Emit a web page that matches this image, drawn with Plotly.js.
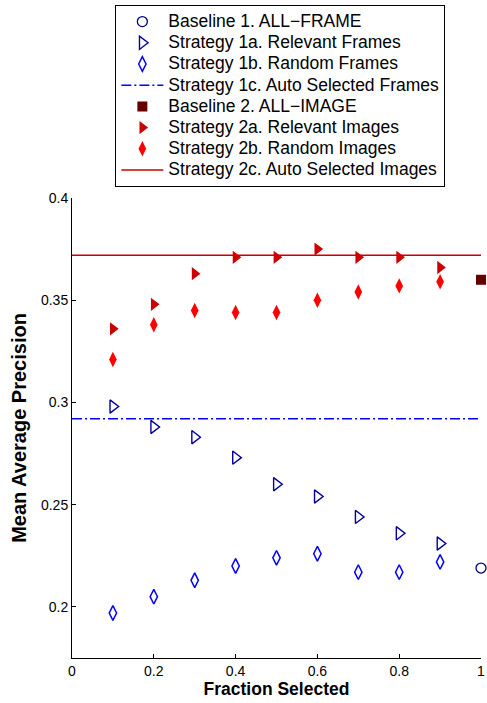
<!DOCTYPE html>
<html>
<head>
<meta charset="utf-8">
<script src="https://cdn.plot.ly/plotly-3.0.1.min.js"></script>
<style>html,body{margin:0;padding:0;background:#fff;}#chart{width:487px;height:703px;}</style>
</head>
<body>
<div id="chart"></div>
<script>
const fractions = [0.1, 0.2, 0.3, 0.4, 0.5, 0.6, 0.7, 0.8, 0.9];
const baseline1 = 0.219;
const strategy1a = [0.298, 0.288, 0.283, 0.273, 0.260, 0.254, 0.244, 0.236, 0.231];
const strategy1b = [0.197, 0.205, 0.213, 0.220, 0.224, 0.226, 0.217, 0.217, 0.222];
const strategy1c = 0.292;
const baseline2 = 0.360;
const strategy2a = [0.336, 0.348, 0.363, 0.371, 0.371, 0.375, 0.371, 0.371, 0.366];
const strategy2b = [0.321, 0.338, 0.345, 0.344, 0.344, 0.350, 0.354, 0.357, 0.359];
const strategy2c = 0.372;
const xTicks = [0, 0.2, 0.4, 0.6, 0.8, 1];
const xTickLabels = ['0', '0.2', '0.4', '0.6', '0.8', '1'];
const yTicks = [0.2, 0.25, 0.3, 0.35, 0.4];
const yTickLabels = ['0.2', '0.25', '0.3', '0.35', '0.4'];
const names = [
  'Baseline 1. ALL\u2212FRAME',
  'Strategy 1a. Relevant Frames',
  'Strategy 1b. Random Frames',
  'Strategy 1c. Auto Selected Frames',
  'Baseline 2. ALL\u2212IMAGE',
  'Strategy 2a. Relevant Images',
  'Strategy 2b. Random Images',
  'Strategy 2c. Auto Selected Images'
];
const legendName = (s) => '<span style="font-size:17.5px">' + s + '</span>';

const traces = [
  {x: [1], y: [baseline1], name: legendName(names[0]), mode: 'markers', cliponaxis: false,
   marker: {symbol: 'circle-open', size: 10, color: '#000080', line: {width: 1.3, color: '#000080'}}},
  {x: fractions, y: strategy1a, name: legendName(names[1]), mode: 'markers',
   marker: {symbol: 'triangle-right-open', size: 11.5, color: '#000099', line: {width: 1.4, color: '#000099'}}},
  {x: fractions, y: strategy1b, name: legendName(names[2]), mode: 'markers',
   marker: {symbol: 'diamond-tall-open', size: 10.5, color: '#0000ff', line: {width: 1.5, color: '#0000ff'}}},
  {x: [0, 1], y: [strategy1c, strategy1c], name: legendName(names[3]), mode: 'lines',
   line: {color: '#0000ff', width: 1.5, dash: '10px,3px,2px,3px'}},
  {x: [1], y: [baseline2], name: legendName(names[4]), mode: 'markers', cliponaxis: false,
   marker: {symbol: 'square', size: 10, color: '#660000', line: {width: 0}}},
  {x: fractions, y: strategy2a, name: legendName(names[5]), mode: 'markers',
   marker: {symbol: 'triangle-right', size: 11.5, color: '#cc0000', line: {width: 0}}},
  {x: fractions, y: strategy2b, name: legendName(names[6]), mode: 'markers',
   marker: {symbol: 'diamond-tall', size: 11, color: '#ff0000', line: {width: 0}}},
  {x: [0, 1], y: [strategy2c, strategy2c], name: legendName(names[7]), mode: 'lines',
   line: {color: '#cc0000', width: 1.5}}
];

const layout = {
  width: 487, height: 703,
  margin: {l: 71.5, r: 6, t: 197, b: 45},
  paper_bgcolor: '#fff', plot_bgcolor: '#fff',
  font: {family: 'Liberation Sans, Arial, sans-serif', size: 14, color: '#000'},
  showlegend: true,
  legend: {
    x: 0.106, y: 1.4165, xanchor: 'left', yanchor: 'top',
    bgcolor: '#fff', bordercolor: '#000', borderwidth: 1,
    font: {family: 'Liberation Sans, Arial, sans-serif', size: 14, color: '#000'},
    itemwidth: 42, traceorder: 'normal'
  },
  xaxis: {
    range: [0, 1], tickvals: xTicks, ticktext: xTickLabels,
    ticks: 'inside', ticklen: 4, tickcolor: '#000', tickwidth: 1,
    showline: true, linecolor: '#000', linewidth: 1, mirror: false,
    showgrid: false, zeroline: false,
    tickfont: {size: 14},
    title: {text: '<b>Fraction Selected</b>', font: {size: 17.5}, standoff: 4}
  },
  yaxis: {
    range: [0.175, 0.4], tickvals: yTicks, ticktext: yTickLabels,
    ticks: 'inside', ticklen: 4, tickcolor: '#000', tickwidth: 1,
    showline: true, linecolor: '#000', linewidth: 1, mirror: false,
    showgrid: false, zeroline: false,
    tickfont: {size: 14},
    title: {text: '<b>Mean Average Precision</b>', font: {size: 20}, standoff: 8}
  }
};

Plotly.newPlot('chart', traces, layout, {displayModeBar: false, staticPlot: true});
</script>
</body>
</html>
